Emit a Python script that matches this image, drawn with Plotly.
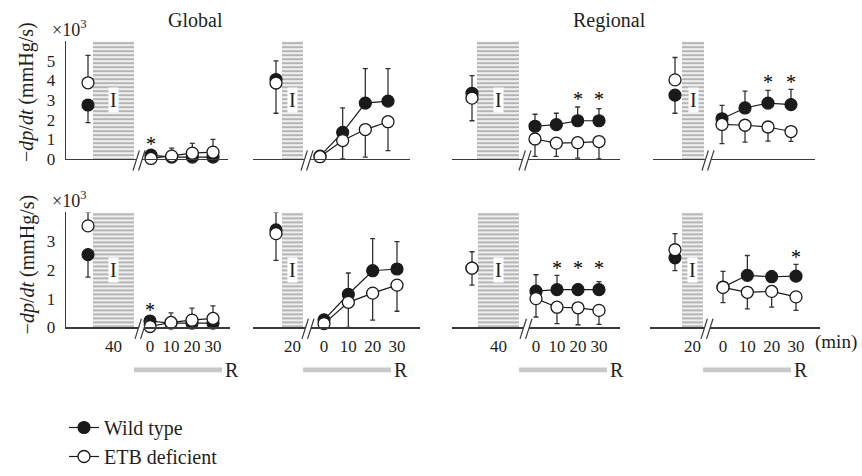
import plotly.graph_objects as go

W, H = 862, 476
FONT = "Liberation Serif, Times New Roman, serif"
TXT = "#231f20"
AXC = "#3a3a3a"

# ---------------- data (x10^3 mmHg/s) ----------------
ISCHEMIA_MIN = [40, 20, 40, 20]          # Global-40, Global-20, Regional-40, Regional-20
REPERFUSION_MIN = [0, 10, 20, 30]
ROW_YMAX = [6, 4]
ROW_YTICKS = [[0, 1, 2, 3, 4, 5], [0, 1, 2, 3]]
SECTION_TITLES = ["Global", "Regional"]
SERIES_NAMES = ["Wild type", "ETB deficient"]

# each inner list: [pre-ischemia, R0, R10, R20, R30]
# ---- top row ----
wt_top = [[2.75, 0.20, 0.10, 0.10, 0.10],
          [4.05, 0.15, 1.36, 2.85, 2.95],
          [3.35, 1.67, 1.75, 1.95, 1.95],
          [3.25, 2.05, 2.60, 2.85, 2.77]]
wt_top_up = [[0.00, 0.20, 0.00, 0.00, 0.00],
             [0.95, 0.00, 1.24, 1.75, 1.65],
             [0.90, 0.61, 0.58, 0.70, 0.62],
             [0.00, 0.68, 0.86, 0.65, 0.78]]
wt_top_dn = [[0.90, 0.00, 0.00, 0.00, 0.00],
             [0.00, 0.00, 0.00, 0.00, 0.00],
             [0.00, 0.00, 0.00, 0.00, 0.00],
             [0.92, 0.00, 0.00, 0.00, 0.00]]
etb_top = [[3.88, 0.03, 0.15, 0.30, 0.35],
           [3.87, 0.12, 0.94, 1.50, 1.90],
           [3.10, 1.02, 0.81, 0.83, 0.89],
           [4.03, 1.76, 1.72, 1.63, 1.40]]
etb_top_up = [[1.40, 0.00, 0.40, 0.50, 0.65],
              [0.00, 0.00, 0.00, 0.00, 0.00],
              [0.00, 0.00, 0.00, 0.00, 0.00],
              [1.14, 0.00, 0.00, 0.00, 0.00]]
etb_top_dn = [[0.00, 0.00, 0.00, 0.00, 0.00],
              [1.54, 0.00, 0.94, 1.40, 1.47],
              [1.15, 0.89, 0.68, 0.78, 0.89],
              [0.00, 0.98, 0.86, 0.72, 0.50]]
stars_top = [[0], [], [20, 30], [20, 30]]

# ---- bottom row ----
wt_bot = [[2.53, 0.22, 0.15, 0.15, 0.15],
          [3.39, 0.26, 1.15, 1.97, 2.03],
          [2.06, 1.26, 1.31, 1.31, 1.31],
          [2.42, 1.40, 1.81, 1.76, 1.78]]
wt_bot_up = [[0.00, 0.13, 0.00, 0.00, 0.00],
             [0.61, 0.00, 0.74, 1.12, 0.95],
             [0.57, 0.57, 0.50, 0.19, 0.28],
             [0.00, 0.55, 0.69, 0.21, 0.41]]
wt_bot_dn = [[0.78, 0.00, 0.00, 0.00, 0.00],
             [0.00, 0.00, 0.00, 0.00, 0.00],
             [0.00, 0.00, 0.00, 0.00, 0.00],
             [0.45, 0.00, 0.00, 0.00, 0.00]]
etb_bot = [[3.53, 0.03, 0.17, 0.25, 0.31],
           [3.26, 0.13, 0.87, 1.19, 1.47],
           [2.06, 1.00, 0.70, 0.68, 0.59],
           [2.70, 1.39, 1.22, 1.25, 1.06]]
etb_bot_up = [[0.47, 0.00, 0.33, 0.42, 0.44],
              [0.00, 0.00, 0.00, 0.00, 0.00],
              [0.00, 0.00, 0.00, 0.00, 0.00],
              [0.56, 0.00, 0.00, 0.00, 0.00]]
etb_bot_dn = [[0.00, 0.00, 0.00, 0.00, 0.00],
              [0.93, 0.00, 0.87, 0.94, 0.91],
              [0.59, 0.64, 0.57, 0.59, 0.49],
              [0.00, 0.53, 0.58, 0.55, 0.47]]
stars_bot = [[0], [], [10, 20, 30], [30]]

ROWS = [
    (wt_top, wt_top_up, wt_top_dn, etb_top, etb_top_up, etb_top_dn, stars_top),
    (wt_bot, wt_bot_up, wt_bot_dn, etb_bot, etb_bot_up, etb_bot_dn, stars_bot),
]

# ---------------- layout geometry (pixels) ----------------
ROW_PX = [(166.0, 43.0), (341.7, 221.7)]   # y pixel of value 0 and of ymax
PANEL_PX = [
    [dict(ax=(66, 228), t0=151, t30=213, base=88, bar=(93, 134), brk=139),
     dict(ax=(253, 410), t0=320, t30=388, base=276, bar=(282, 303), brk=307),
     dict(ax=(452, 620), t0=535, t30=599, base=472, bar=(477, 519), brk=525),
     dict(ax=(653, 815), t0=722, t30=791, base=675, bar=(682, 704), brk=708)],
    [dict(ax=(66, 230), t0=150, t30=213, base=88, bar=(93, 134), brk=141),
     dict(ax=(253, 420), t0=324, t30=397, base=276, bar=(282, 303), brk=308),
     dict(ax=(452, 620), t0=536, t30=599, base=472, bar=(478, 519), brk=526),
     dict(ax=(650, 820), t0=723, t30=796, base=675, bar=(682, 703), brk=707)],
]


def px_x(px):
    return px / W


def px_y(py):
    return 1 - py / H


def make_xmap(g):
    s = 30.0 / (g["t30"] - g["t0"])
    return lambda px: (px - g["t0"]) * s


def ann(**kw):
    d = dict(showarrow=False, xanchor="center", yanchor="middle",
             font=dict(family=FONT, size=20, color=TXT))
    d.update(kw)
    return d


fig = go.Figure()
shapes, annotations = [], []
layout_axes = {}

marker_wt = dict(symbol="circle", size=12, color="#1a1a1a", line=dict(color="#1a1a1a", width=1.2))
marker_etb = dict(symbol="circle", size=12, color="white", line=dict(color="#1a1a1a", width=1.3))


def err(up, dn):
    return dict(type="data", symmetric=False, array=up, arrayminus=dn,
                color="#333333", thickness=1.3, width=2.5)


k = 0
for r in range(2):
    y0px, y1px = ROW_PX[r]
    ymax = ROW_YMAX[r]
    upx = (y0px - y1px) / ymax
    wt, wtu, wtd, etb, etbu, etbd, stars = ROWS[r]
    for c in range(4):
        k += 1
        g = PANEL_PX[r][c]
        xo = make_xmap(g)
        xa = "x" if k == 1 else f"x{k}"
        ya = "y" if k == 1 else f"y{k}"
        bx0, bx1 = xo(g["bar"][0]), xo(g["bar"][1])
        bxc = (bx0 + bx1) / 2
        base_x = xo(g["base"])

        # ischemia bar
        fig.add_trace(go.Bar(
            x=[bxc], y=[ymax], base=0, width=[bx1 - bx0], xaxis=xa, yaxis=ya,
            marker=dict(color="white", line=dict(width=0),
                        pattern=dict(shape="-", fgcolor="#6c6c6c", bgcolor="white",
                                     size=4, solidity=0.6)),
            showlegend=False, hoverinfo="skip"))

        first = (k == 1)
        # wild type
        fig.add_trace(go.Scatter(
            x=[base_x], y=[wt[c][0]], mode="markers", xaxis=xa, yaxis=ya,
            marker=marker_wt, error_y=err([wtu[c][0]], [wtd[c][0]]),
            showlegend=False, cliponaxis=False))
        fig.add_trace(go.Scatter(
            x=REPERFUSION_MIN, y=wt[c][1:], mode="lines+markers", xaxis=xa, yaxis=ya,
            line=dict(color="#1a1a1a", width=1.2), marker=marker_wt,
            error_y=err(wtu[c][1:], wtd[c][1:]),
            name=SERIES_NAMES[0], showlegend=first, legendgroup="wt", cliponaxis=False))
        # ETB deficient
        fig.add_trace(go.Scatter(
            x=[base_x], y=[etb[c][0]], mode="markers", xaxis=xa, yaxis=ya,
            marker=marker_etb, error_y=err([etbu[c][0]], [etbd[c][0]]),
            showlegend=False, cliponaxis=False))
        fig.add_trace(go.Scatter(
            x=REPERFUSION_MIN, y=etb[c][1:], mode="lines+markers", xaxis=xa, yaxis=ya,
            line=dict(color="#1a1a1a", width=1.2), marker=marker_etb,
            error_y=err(etbu[c][1:], etbd[c][1:]),
            name=SERIES_NAMES[1], showlegend=first, legendgroup="etb", cliponaxis=False))

        # significance stars
        if stars[c]:
            idx = [REPERFUSION_MIN.index(t) + 1 for t in stars[c]]
            ytop = max(wt[c][i] + wtu[c][i] for i in idx)
            ys = ytop + 8.0 / upx
            for t in stars[c]:
                annotations.append(ann(x=t, y=ys, xref=xa, yref=ya, text="*",
                                       font=dict(family=FONT, size=20, color="#000000")))

        # "I" label
        annotations.append(ann(x=bxc, y=ymax / 2, xref=xa, yref=ya, text="I",
                               bgcolor="white", borderpad=1))

        ax0, ax1 = g["ax"]
        layout_axes["xaxis" if k == 1 else f"xaxis{k}"] = dict(
            domain=[px_x(ax0), px_x(ax1)], range=[xo(ax0), xo(ax1)], anchor=ya,
            showline=True, linecolor=AXC, linewidth=1.3, showgrid=False, zeroline=False,
            ticks="", showticklabels=(r == 1), tickmode="array",
            tickvals=[bxc] + REPERFUSION_MIN,
            ticktext=[str(ISCHEMIA_MIN[c])] + [str(t) for t in REPERFUSION_MIN],
            tickfont=dict(family=FONT, size=17, color=TXT), ticklabelstandoff=3,
            fixedrange=True)
        layout_axes["yaxis" if k == 1 else f"yaxis{k}"] = dict(
            domain=[px_y(y0px), px_y(y1px)], range=[0, ymax], anchor=xa,
            visible=(c == 0), showline=True, linecolor=AXC, linewidth=1.3,
            showgrid=False, zeroline=False, ticks="", tickmode="array",
            tickvals=ROW_YTICKS[r], tickfont=dict(family=FONT, size=17, color=TXT),
            ticklabelstandoff=6, fixedrange=True)

        # axis break "//"
        b = g["brk"]
        shapes.append(dict(type="line", xref="paper", yref="paper",
                           x0=px_x(b - 3), x1=px_x(b + 3), y0=px_y(y0px), y1=px_y(y0px),
                           line=dict(color="white", width=4)))
        for dx in (-2.8, 2.8):
            shapes.append(dict(type="line", xref="paper", yref="paper",
                               x0=px_x(b + dx - 3.2), y0=px_y(y0px + 12),
                               x1=px_x(b + dx + 3.2), y1=px_y(y0px - 9),
                               line=dict(color=AXC, width=1.2)))

        # reperfusion bar "R" (bottom row only)
        if r == 1:
            rb0 = g["bar"][1]
            rb1 = rb0 + 88
            shapes.append(dict(type="rect", xref="paper", yref="paper",
                               x0=px_x(rb0), x1=px_x(rb1), y0=px_y(388.5), y1=px_y(383.5),
                               fillcolor="#c8c8c8", line=dict(width=0)))
            annotations.append(ann(x=px_x(rb1 + 1), y=px_y(386), xref="paper", yref="paper",
                                   text="R", xanchor="left"))

    # y-axis title and x10^3 for this row
    annotations.append(ann(x=px_x(27), y=px_y([96, 276][r]), xref="paper", yref="paper",
                           text="\u2212<i>dp</i>/<i>dt</i> (mmHg/s)", textangle=-90))
    annotations.append(ann(x=px_x(69), y=px_y(y1px + 1), xref="paper", yref="paper",
                           text="\u00d710<sup>3</sup>", yanchor="bottom",
                           font=dict(family=FONT, size=18, color=TXT)))

# section titles
for txt, xc in zip(SECTION_TITLES, (195, 609)):
    annotations.append(ann(x=px_x(xc), y=px_y(21), xref="paper", yref="paper", text=txt))
annotations.append(ann(x=px_x(836), y=px_y(357), xref="paper", yref="paper", text="(min)",
                       font=dict(family=FONT, size=19, color=TXT)))

fig.update_layout(
    width=W, height=H, margin=dict(l=0, r=0, t=0, b=0),
    paper_bgcolor="white", plot_bgcolor="white",
    shapes=shapes, annotations=annotations, bargap=0,
    showlegend=True,
    legend=dict(x=px_x(64), y=px_y(426), xanchor="left", yanchor="top",
                font=dict(family=FONT, size=20, color=TXT), bgcolor="rgba(0,0,0,0)",
                tracegroupgap=0, itemclick=False, itemdoubleclick=False),
    **layout_axes,
)

fig.write_html(
    "out.html",
    config={"displayModeBar": False, "staticPlot": True},
    post_script="document.body.style.margin='0';document.body.style.padding='0';"
                "document.documentElement.style.overflow='hidden';",
)
